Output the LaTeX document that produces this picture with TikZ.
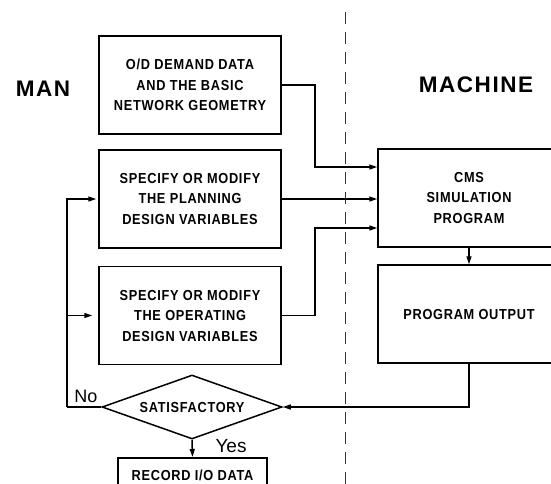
\documentclass[tikz,border=0pt]{standalone}
\usepackage{fontspec}
\setmainfont{Liberation Sans}
\newfontfamily\boxfont[FakeStretch=0.88,LetterSpace=5]{Liberation Sans Bold}
\newfontfamily\headfont[LetterSpace=7]{Liberation Sans Bold}
\usetikzlibrary{positioning,shapes.geometric,arrows.meta}

\tikzset{
  stage/.style={draw, line width=1.5pt, minimum width=182pt, minimum height=98pt,
    align=center, inner sep=0pt, font=\boxfont\fontsize{14.5}{20.5}\selectfont},
  flow/.style={line width=1.5pt, -{Triangle[length=8pt,width=5pt]}},
  link/.style={line width=1.5pt},
  side/.style={font=\headfont\fontsize{22.5}{24}\selectfont}
}

\begin{document}
\begin{tikzpicture}[x=1pt,y=-1pt]
\useasboundingbox (0,0) rectangle (551,483);
\clip (0,0) rectangle (551,483);
% left column: man
\node [side] (man) at (43,89) {MAN};
\node [stage] (od) at (190,85) {O/D DEMAND DATA\\AND THE BASIC\\NETWORK GEOMETRY};
\node [stage] (plan) at (190,199) {SPECIFY OR MODIFY\\THE PLANNING\\DESIGN VARIABLES};
\node [stage] (oper) at (190,315.5) {SPECIFY OR MODIFY\\THE OPERATING\\DESIGN VARIABLES};
\node [draw, diamond, line width=1.5pt, aspect=2.8, minimum width=180pt, minimum height=64pt,
  inner sep=0pt, font=\boxfont\fontsize{14.5}{16}\selectfont] (sat) at (192,407) {SATISFACTORY};
\node [draw, line width=1.5pt, anchor=north, minimum width=149pt, inner xsep=0pt,
  inner ysep=0pt, text height=23pt, text depth=20pt,
  font=\boxfont\fontsize{14.5}{16}\selectfont] (rec) at (192.5,457) {RECORD I/O DATA};
% right column: machine
\node [side] (mach) at (476,85) {MACHINE};
\node [stage] (cms) at (469,198) {CMS\\SIMULATION\\PROGRAM};
\node [stage] (out) at (469,314) {PROGRAM OUTPUT};
% divider
\coordinate (divtop) at (345,12);
\coordinate (divbot) at (345,490);
\draw [line width=0.9pt, black!80, dash pattern=on 12pt off 8pt] (divtop) -- (divbot);
% connectors
\draw [flow] (od.east) -- ++(33,0) |- ([yshift=31pt]cms.west);
\draw [flow] (plan.east) -- (cms.west |- plan.east);
\draw [flow] (oper.east) -- ++(33,0) |- ([yshift=-30pt]cms.west);
\draw [flow] (cms.south) -- (out.north);
\draw [flow] (out.south) |- (sat.east);
\draw [flow] (sat.south) -- (rec.north);
\coordinate (back) at (67,407);
\draw [link] (sat.west) -- (back);
\draw [flow] (back) |- ([xshift=-2pt]plan.west);
\draw [flow] (back) |- ([xshift=-6pt]oper.west);
\node [font=\fontsize{18}{20}\selectfont] (no) at (86,396) {No};
\node [font=\fontsize{19}{20}\selectfont] (yes) at (231,446) {Yes};
\end{tikzpicture}
\end{document}
